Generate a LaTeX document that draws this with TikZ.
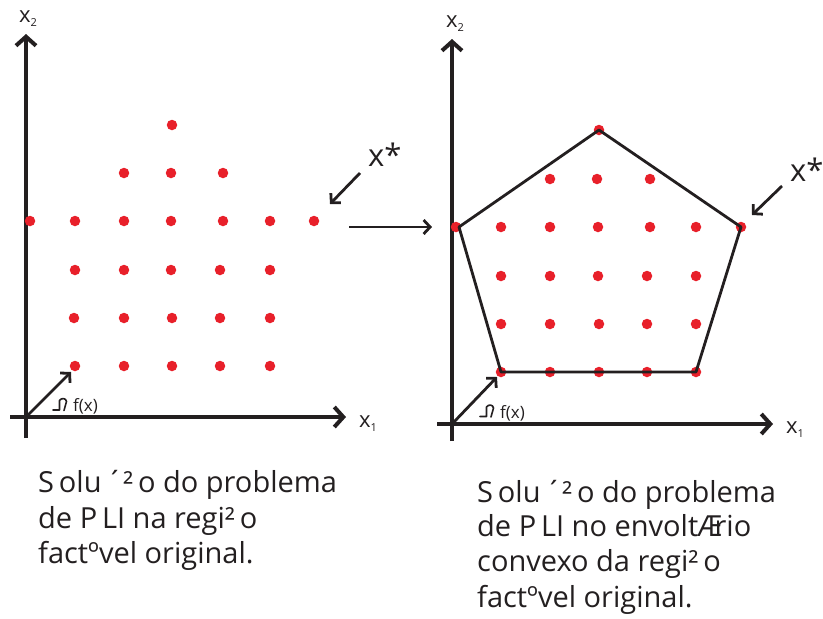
\documentclass[tikz,border=0pt]{standalone}
\usepackage{fontspec}
\setmainfont{Open Sans}
\usetikzlibrary{arrows.meta}
\definecolor{ink}{HTML}{231F20}
\definecolor{dotred}{HTML}{E8202A}
\tikzset{
  axisline/.style={draw=ink,line width=4pt,-{Straight Barb[length=9pt,width=20pt,line width=4pt]}},
  pointer/.style={draw=ink,line width=2.8pt,-{Straight Barb[length=6.5pt,width=14pt,line width=2.8pt]}},
  hull/.style={draw=ink,line width=2.8pt,line join=round},
  reddot/.style={circle,fill=dotred,inner sep=0pt,minimum size=10.5pt},
  captext/.style={font=\fontsize{29}{34}\selectfont,text=ink,anchor=base west,inner sep=0pt},
  axlab/.style={font=\fontsize{22}{24}\selectfont,text=ink,anchor=base west,inner sep=0pt},
  starlab/.style={font=\fontsize{31}{34}\selectfont,text=ink,anchor=base west,inner sep=0pt},
  gradlab/.style={font=\fontsize{17}{18}\selectfont,text=ink,anchor=base west,inner sep=0pt},
  glyph/.style={draw=ink,line width=1.6pt,line cap=round,line join=round}
}
\begin{document}
\begin{tikzpicture}[x=1pt,y=-1pt]
\useasboundingbox (0,0) rectangle (823,619);
% ---------------- left panel ----------------
\coordinate (LyB) at (26,438);
\coordinate (LyT) at (26,34);
\coordinate (LxL) at (10,417);
\coordinate (LxR) at (346,417);
\coordinate (LO) at (26,417);
\draw[axisline] (LyB) -- (LyT);
\draw[axisline] (LxL) -- (LxR);
\node[axlab] (Lx2) at (19,22) {x\raisebox{-0.35ex}{\fontsize{11}{12}\selectfont 2}};
\node[axlab] (Lx1) at (359,427) {x\raisebox{-0.35ex}{\fontsize{11}{12}\selectfont 1}};
% dots
\foreach \x/\y/\n in {172/125/a1,
  124/173/b1,171/173/b2,223/173/b3,
  30/221/c0,75/221/c1,124/221/c2,171/221/c3,223/221/c4,270/221/c5,314/221/c6,
  75/270/d1,124/270/d2,171/270/d3,220/270/d4,270/270/d5,
  74/318/e1,124/318/e2,172/318/e3,220/318/e4,270/318/e5,
  75/366/f1,124/366/f2,172/366/f3,220/366/f4,270/366/f5}
  \node[reddot] (L\n) at (\x,\y) {};
\coordinate (LgT) at (71,372);
\draw[pointer] (LO) -- (LgT);
\draw[glyph] (53,410) -- (59.5,410) -- (59.5,400.5) .. controls (61.5,397.5) and (66,398) .. (66.5,401.5) -- (64,410.5);
\node[gradlab] (Lf) at (73,411) {f(x)};
\node[starlab] (Lstar) at (368,166) {x*};
\coordinate (LsA) at (360,173);
\coordinate (LsB) at (330,204);
\draw[pointer] (LsA) -- (LsB);
% middle arrow
\coordinate (MA) at (349,227);
\coordinate (MB) at (432,227);
\draw[pointer] (MA) -- (MB);
% ---------------- right panel ----------------
\coordinate (RyB) at (452,441);
\coordinate (RyT) at (452,39);
\coordinate (RxL) at (437,424);
\coordinate (RxR) at (773,424);
\coordinate (RO) at (452,424);
\draw[axisline] (RyB) -- (RyT);
\draw[axisline] (RxL) -- (RxR);
\node[axlab] (Rx2) at (446,27) {x\raisebox{-0.35ex}{\fontsize{11}{12}\selectfont 2}};
\node[axlab] (Rx1) at (786,433) {x\raisebox{-0.35ex}{\fontsize{11}{12}\selectfont 1}};
\foreach \x/\y/\n in {599/130/a1,
  550/179/b1,597/179/b2,650/179/b3,
  456/227/c0,501/227/c1,550/227/c2,598/227/c3,650/227/c4,696/227/c5,741/227/c6,
  501/276/d1,550/276/d2,598/276/d3,647/276/d4,696/276/d5,
  501/324/e1,550/324/e2,599/324/e3,647/324/e4,696/324/e5,
  501/372/f1,550/372/f2,599/372/f3,647/372/f4,696/372/f5}
  \node[reddot] (R\n) at (\x,\y) {};
\coordinate (RhL) at (459,227);
\draw[hull] (Ra1.center) -- (Rc6.center) -- (Rf5.center) -- (Rf1.center) -- (RhL) -- cycle;
\coordinate (RgT) at (497,377);
\draw[pointer] (RO) -- (RgT);
\draw[glyph] (480,416.5) -- (486.5,416.5) -- (486.5,407) .. controls (488.5,404) and (493,404.5) .. (493.5,408) -- (491,417);
\node[gradlab] (Rf) at (500,418) {f(x)};
\node[starlab] (Rstar) at (790,181) {x*};
\coordinate (RsA) at (782,186);
\coordinate (RsB) at (752,215);
\draw[pointer] (RsA) -- (RsB);
% ---------------- captions ----------------
\node[captext] (Lt1) at (38,492) {S\,olu\,´²\,o do problema};
\node[captext] (Lt2) at (38,528) {de P\,LI na regi²\,o};
\node[captext] (Lt3) at (38,563) {factºvel original.};
\node[captext] (Rt1) at (477,502) {S\,olu\,´²\,o do problema};
\node[captext] (Rt2) at (477,536) {de P\,LI no envolt\kern-1pt Æ\kern-8pt rio};
\node[captext] (Rt3) at (477,571) {convexo da regi²\,o};
\node[captext] (Rt4) at (477,607) {factºvel original.};
\end{tikzpicture}
\end{document}
